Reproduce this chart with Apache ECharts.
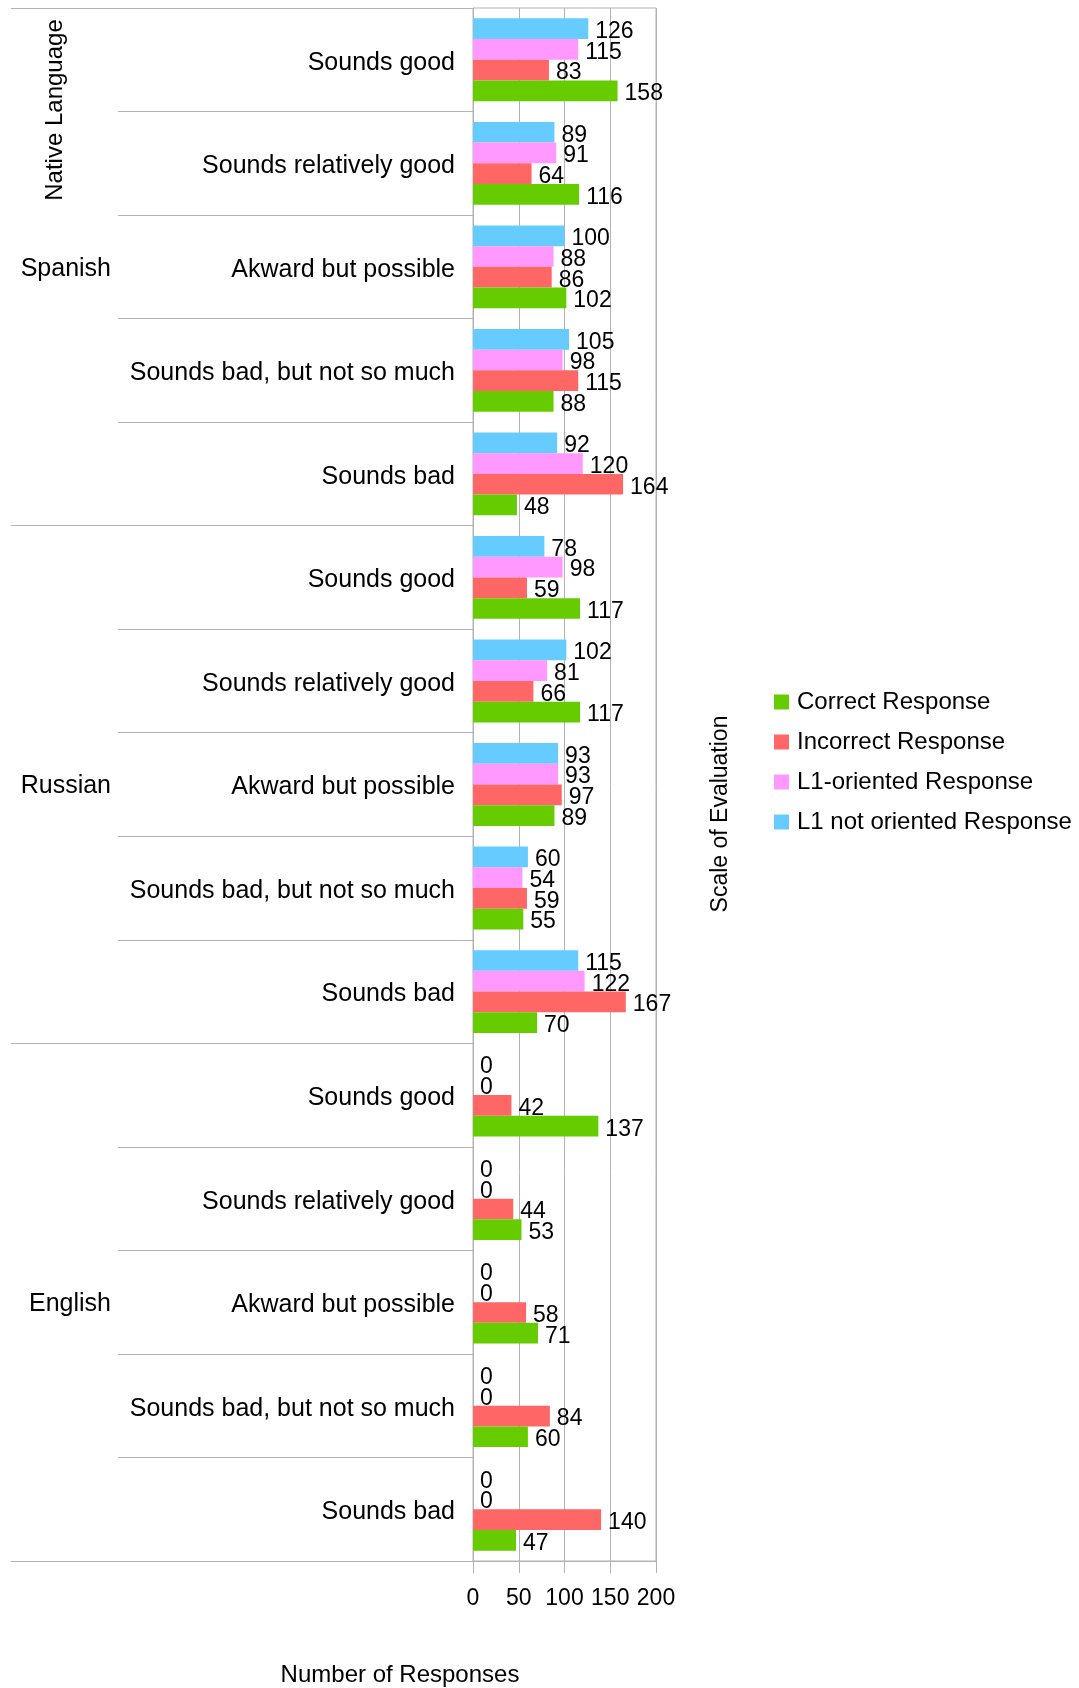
<!DOCTYPE html>
<html>
<head>
<meta charset="utf-8">
<title>Responses by native language and scale of evaluation</title>
<script src="https://cdn.jsdelivr.net/npm/echarts@6/dist/echarts.min.js"></script>
<style>
  html, body { margin: 0; padding: 0; background: #ffffff; }
  #chart { width: 1079px; height: 1688px; }
</style>
</head>
<body>
<div id="chart"></div>
<script>
// Groups on the outer axis and evaluation levels on the inner axis
const languages = ['Spanish', 'Russian', 'English'];
const scaleLevels = [
  'Sounds good',
  'Sounds relatively good',
  'Akward but possible',
  'Sounds bad, but not so much',
  'Sounds bad'
];

// Values per series, in the order Spanish x5, Russian x5, English x5
const correctResponse       = [158, 116, 102, 88, 48,   117, 117, 89, 55, 70,    137, 53, 71, 60, 47];
const incorrectResponse     = [83, 64, 86, 115, 164,    59, 66, 97, 59, 167,     42, 44, 58, 84, 140];
const l1OrientedResponse    = [115, 91, 88, 98, 120,    98, 81, 93, 54, 122,     0, 0, 0, 0, 0];
const l1NotOrientedResponse = [126, 89, 100, 105, 92,   78, 102, 93, 60, 115,    0, 0, 0, 0, 0];

const valueTicks = [0, 50, 100, 150, 200];

const FONT = "'Liberation Sans', Arial, sans-serif";
const LINE = '#b3b3b3';

// One category per (language, level) pair; the label shows only the level
const categories = [];
languages.forEach(function (lang) {
  scaleLevels.forEach(function (lvl) { categories.push(lang + '|' + lvl); });
});

function barSeries(name, color, values) {
  return {
    name: name,
    type: 'bar',
    yAxisIndex: 0,
    data: values,
    barGap: '0%',
    barCategoryGap: '20%',
    itemStyle: { color: color },
    label: {
      show: true,
      position: 'right',
      distance: 7,
      offset: [0, 3],
      color: '#000',
      fontFamily: FONT,
      fontSize: 23
    },
    emphasis: { disabled: true },
    animation: false
  };
}

const chart = echarts.init(document.getElementById('chart'), null, { renderer: 'canvas' });

chart.setOption({
  backgroundColor: '#ffffff',
  textStyle: { fontFamily: FONT, color: '#000' },
  grid: {
    left: 473, right: 423, top: 8, bottom: 127,
    show: true, borderColor: LINE, borderWidth: 1, containLabel: false
  },
  legend: {
    orient: 'vertical',
    left: 769,
    top: 684,
    itemWidth: 15,
    itemHeight: 15,
    itemGap: 14,
    icon: 'rect',
    selectedMode: false,
    data: ['Correct Response', 'Incorrect Response', 'L1-oriented Response', 'L1 not oriented Response'],
    textStyle: { fontFamily: FONT, fontSize: 24, lineHeight: 26, color: '#000', padding: [0, 0, 0, 3] }
  },
  xAxis: {
    type: 'value',
    min: valueTicks[0],
    max: valueTicks[valueTicks.length - 1],
    interval: valueTicks[1] - valueTicks[0],
    axisLine: { show: true, lineStyle: { color: LINE } },
    axisTick: { show: true, length: 12, lineStyle: { color: LINE } },
    splitLine: { show: true, lineStyle: { color: LINE } },
    axisLabel: { margin: 26, fontFamily: FONT, fontSize: 23, color: '#000' }
  },
  yAxis: [
    {
      type: 'category',
      data: categories,
      inverse: true,
      position: 'left',
      axisLine: { show: true, lineStyle: { color: LINE } },
      axisTick: { show: true, interval: 0, length: 355, lineStyle: { color: LINE } },
      axisLabel: {
        interval: 0,
        margin: 18,
        verticalAlign: 'top',
        lineHeight: 6,
        fontFamily: FONT,
        fontSize: 25,
        color: '#000',
        formatter: function (v) { return v.split('|')[1]; }
      }
    },
    {
      type: 'category',
      data: languages,
      inverse: true,
      position: 'left',
      offset: 0,
      axisLine: { show: false },
      axisTick: { show: true, interval: 0, length: 462, lineStyle: { color: LINE } },
      axisLabel: {
        interval: 0, margin: 362, verticalAlign: 'top', lineHeight: 4,
        fontFamily: FONT, fontSize: 25, color: '#000'
      }
    }
  ],
  series: [
    barSeries('L1 not oriented Response', '#66ccff', l1NotOrientedResponse),
    barSeries('L1-oriented Response', '#ff99ff', l1OrientedResponse),
    barSeries('Incorrect Response', '#ff6666', incorrectResponse),
    barSeries('Correct Response', '#66cc00', correctResponse)
  ],
  graphic: [
    {
      type: 'text', x: 55, y: 110, rotation: Math.PI / 2,
      style: { text: 'Native Language', font: '24px ' + FONT, fill: '#000', textAlign: 'center', textVerticalAlign: 'middle' }
    },
    {
      type: 'text', x: 721, y: 814, rotation: Math.PI / 2,
      style: { text: 'Scale of Evaluation', font: '23px ' + FONT, fill: '#000', textAlign: 'center', textVerticalAlign: 'middle' }
    },
    {
      type: 'text', x: 400, y: 1675,
      style: { text: 'Number of Responses', font: '24px ' + FONT, fill: '#000', textAlign: 'center', textVerticalAlign: 'middle' }
    }
  ]
});
</script>
</body>
</html>
